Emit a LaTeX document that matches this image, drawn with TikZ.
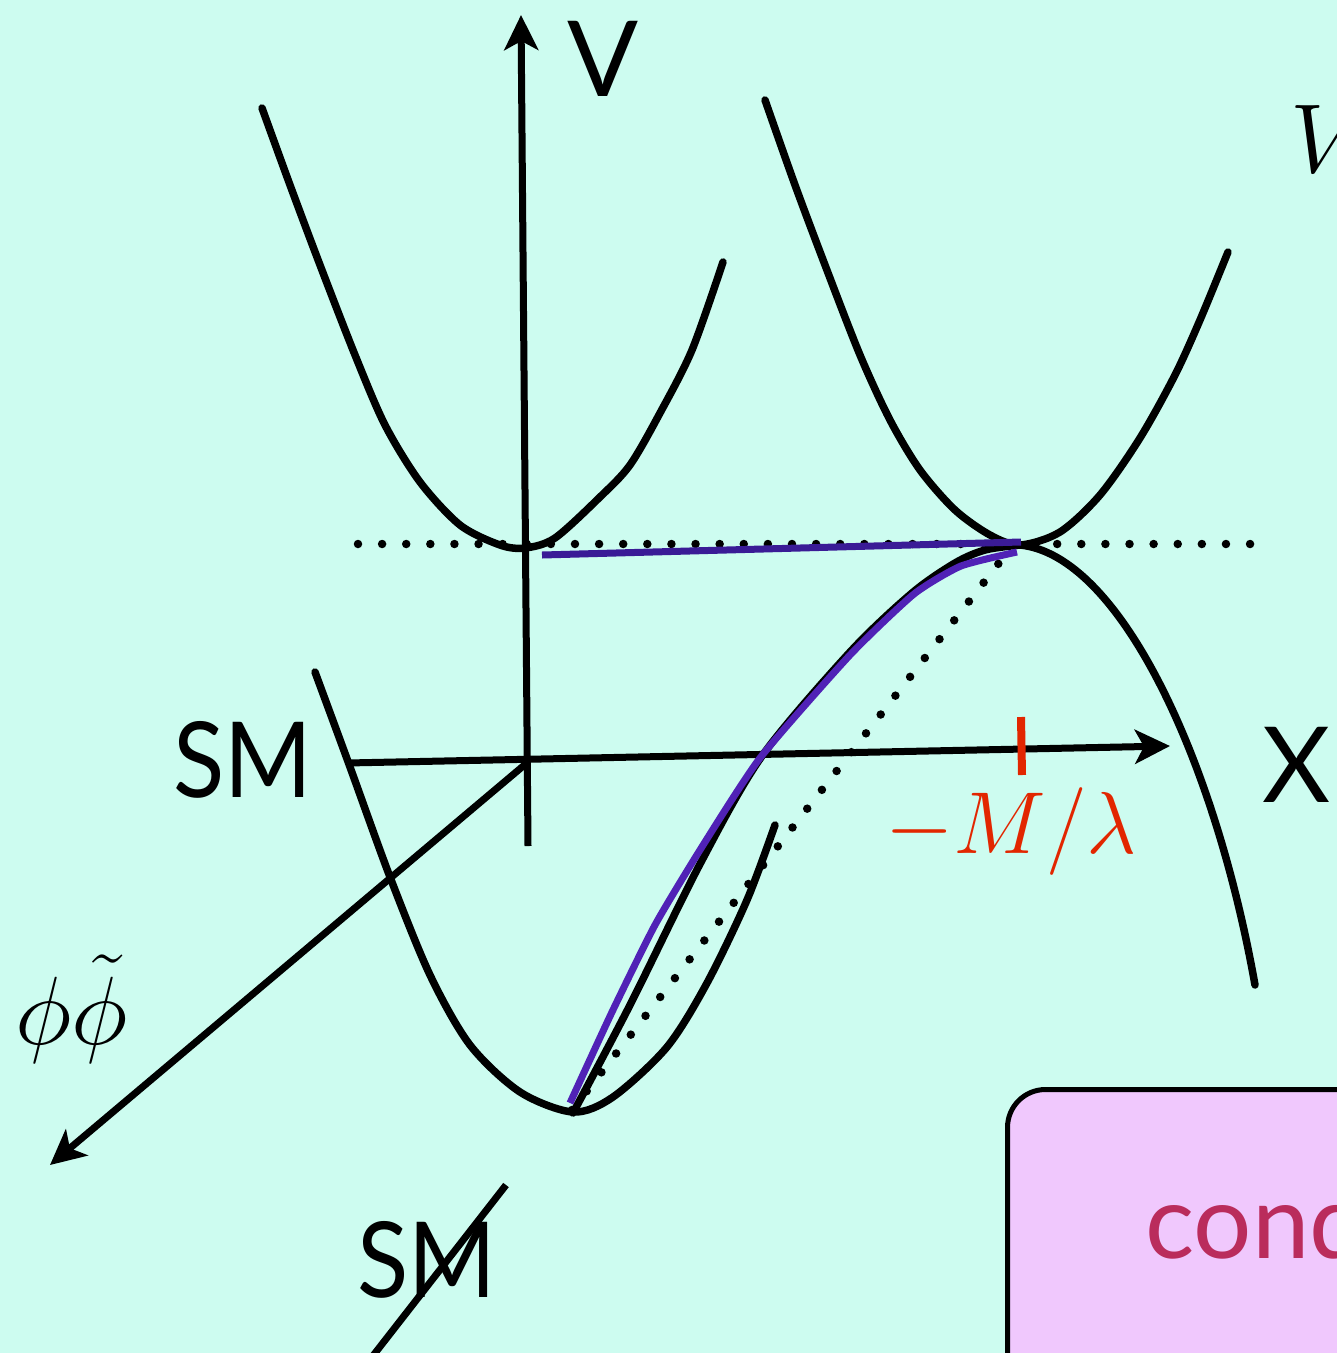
\RequirePackage{fix-cm}
\documentclass[tikz,border=0pt]{standalone}
\usepackage{fontspec}
\newfontfamily\gill{Lato}
\newfontfamily\gillsm{Lato}[FakeStretch=0.9]
\usetikzlibrary{arrows.meta}
\definecolor{bg}{RGB}{205,252,240}
\definecolor{boxpink}{RGB}{240,200,253}
\definecolor{condred}{RGB}{186,44,92}
\definecolor{tickred}{RGB}{226,38,0}
\definecolor{purpA}{RGB}{58,27,150}
\definecolor{purpB}{RGB}{80,34,182}
\tikzset{
  curve/.style={line width=7.5pt, black, line cap=round, line join=round},
  axisline/.style={line width=7pt, black, -{Stealth[length=35pt,width=34pt,inset=9pt]}},
  dotline/.style={line width=8.5pt, black, line cap=round},
  lab/.style={inner sep=0pt, font=\gill\fontsize{105}{120}\selectfont},
  smlab/.style={inner sep=0pt, font=\gillsm\fontsize{105}{120}\selectfont},
  mathlab/.style={inner sep=0pt},
  condbox/.style={draw=black, line width=5pt, fill=boxpink, rounded corners=38pt}
}
\begin{document}
\begin{tikzpicture}[x=1pt,y=-1pt]
\useasboundingbox (0,0) rectangle (1337,1353);
\clip (0,0) rectangle (1337,1353);
\fill[bg] (0,0) rectangle (1337,1353);

% box at lower right
\node[condbox, anchor=north west, minimum width=460pt, minimum height=420pt] (box) at (1005,1087) {};
\node[anchor=base west, inner sep=0pt, text=condred, font=\gill\fontsize{103}{115}\selectfont] (cond) at (1145,1258) {cond};

% axes
\coordinate (O) at (528,762);
\coordinate (Vbot) at (528,846);
\coordinate (Vtop) at (521,15);
\coordinate (Xl) at (347,763);
\coordinate (Xr) at (1170,746);
\coordinate (Dt) at (50,1165);
\draw[axisline] (Vbot) -- (Vtop);
\draw[axisline] (Xl) -- (Xr);
\draw[axisline] (O) -- (Dt);

% red tick
\draw[tickred, line width=8pt] (1021,717) -- (1022,775);

% upper left parabola
\draw[curve] plot[smooth, tension=0.5] coordinates {(262,108) (290,185) (320,265) (355,355) (385,425) (420,482) (460,525) (500,545) (525,548) (555,538) (600,497) (630,465) (660,413) (692,350) (723,262)};
% upper right parabola
\draw[curve] plot[smooth, tension=0.5] coordinates {(765,100) (795,185) (825,265) (860,355) (890,420) (920,470) (955,510) (990,535) (1020,545) (1060,532) (1100,495) (1140,438) (1175,375) (1200,320) (1228,252)};
% lower parabola
\draw[curve] plot[smooth, tension=0.5] coordinates {(315,672) (350,767) (390,877) (430,975) (470,1045) (520,1092) (573,1112) (613,1097) (667,1047) (707,983) (747,900) (775,825)};
% cubic branch
\draw[curve] plot[smooth, tension=0.5] coordinates {(573,1113) (630,1005) (700,864) (762,756) (850,652) (912,593) (955,563) (985,550) (1020,545)}
  .. controls (1120,555) and (1215,760) .. (1255,985);

% dotted lines
\draw[dotline, dash pattern=on 0pt off 24.11pt] (358,544) -- (1252,544);
\draw[dotline, dash pattern=on 0pt off 23.89pt] (1013,545) -- (572,1110);

% purple paths
\draw[purpA, line width=7pt] (542,555) -- (1021,542);
\draw[purpB, line width=7pt] plot[smooth, tension=0.35] coordinates {(570,1103) (612,1012) (655,925) (700,850) (760,758) (850,655) (914,594) (961,566) (1017,552)};

% slash over lower SM
\coordinate (s1) at (506,1185);
\coordinate (s2) at (372,1357);

% labels
\node[smlab, anchor=base] (smL) at (243,797) {SM};
\node[lab, anchor=base] (vL) at (603,96) {V};
\node[lab, anchor=base] (xL) at (1297,802) {X};
\node[smlab, anchor=base] (smB) at (427,1297) {SM};
\draw[line width=7pt] (s1) -- (s2);
\node[mathlab, anchor=base, font=\fontsize{97}{110}\selectfont] (phi) at (72,1044) {$\phi\tilde{\phi}$};
\node[mathlab, anchor=base, text=tickred, font=\fontsize{88}{100}\selectfont] (ml) at (1011,853) {$-M/\lambda$};
\node[mathlab, anchor=base west, font=\fontsize{98}{110}\selectfont] (vtop) at (1290,172) {$V$};
\end{tikzpicture}
\end{document}
